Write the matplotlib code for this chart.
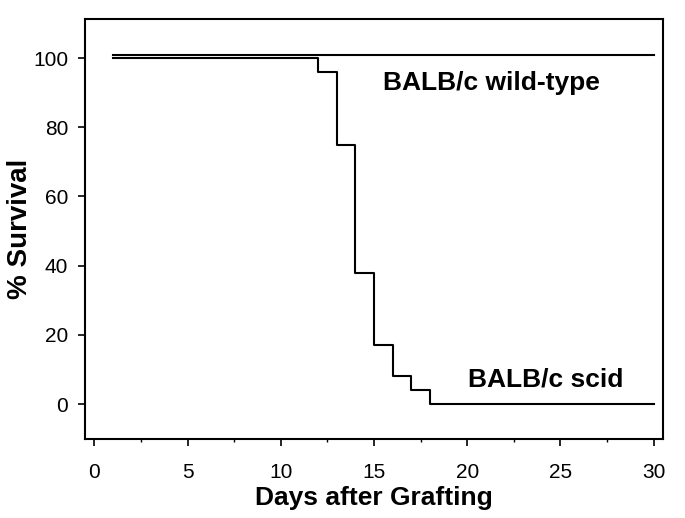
import matplotlib
matplotlib.use('Agg')
from matplotlib import pyplot as plt
from matplotlib.ticker import MultipleLocator

plt.rcParams['font.family'] = ['Liberation Sans', 'DejaVu Sans']

# survival curves
wt_days = [1, 30]
wt_survival = [101, 101]
scid_days = [1, 12, 13, 14, 15, 16, 17, 18, 30]
scid_survival = [100, 96, 75, 38, 17, 8, 4, 0, 0]

x_ticks = [0, 5, 10, 15, 20, 25, 30]
y_ticks = [0, 20, 40, 60, 80, 100]

fig = plt.figure(figsize=(6.85, 5.18), dpi=100)
ax = fig.add_axes([0.1241, 0.1525, 0.8438, 0.8108])

ax.plot(wt_days, wt_survival, drawstyle='steps-post', color='black', lw=1.5)
ax.plot(scid_days, scid_survival, drawstyle='steps-post', color='black', lw=1.5)

ax.text(15.5, 90.8, 'BALB/c wild-type', fontsize=19, fontweight='bold', ha='left', va='baseline')
ax.text(20.05, 5.0, 'BALB/c scid', fontsize=19, fontweight='bold', ha='left', va='baseline')

ax.set_xlim(-0.5, 30.5)
ax.set_ylim(-10.1, 111.3)
ax.set_xticks(x_ticks)
ax.set_yticks(y_ticks)
ax.xaxis.set_minor_locator(MultipleLocator(2.5))

for s in ax.spines.values():
    s.set_linewidth(1.5)

ax.tick_params(axis='both', which='major', length=5, width=1.2, labelsize=15)
ax.tick_params(axis='x', which='major', pad=12)
ax.tick_params(axis='y', which='major', pad=7)
ax.tick_params(axis='x', which='minor', length=2, width=1.0)

ax.set_xlabel('Days after Grafting', fontsize=19, fontweight='bold', labelpad=3)
ax.set_ylabel('% Survival', fontsize=20, fontweight='bold', labelpad=0)

fig.savefig('out.png', dpi=100)
